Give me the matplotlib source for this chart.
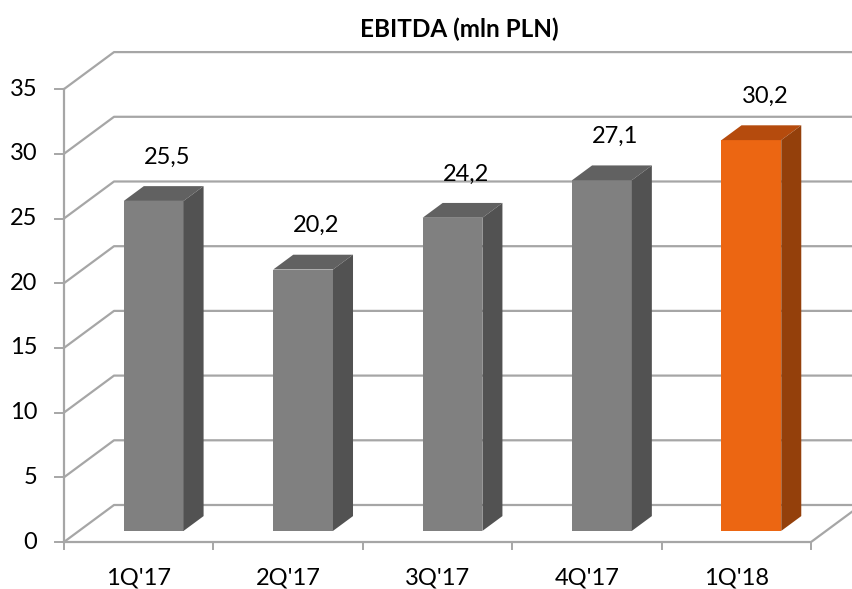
import matplotlib
matplotlib.use("Agg")
import matplotlib.pyplot as plt
from matplotlib.patches import Polygon

plt.rcParams['font.family'] = ['Lato', 'DejaVu Sans']

# data
categories = ["1Q'17", "2Q'17", "3Q'17", "4Q'17", "1Q'18"]
ebitda = [25.5, 20.2, 24.2, 27.1, 30.2]
value_labels = ["25,5", "20,2", "24,2", "27,1", "30,2"]
y_ticks = [0, 5, 10, 15, 20, 25, 30, 35]

# colours: (front, top, side)
gray = ("#808080", "#616161", "#525252")
orange = ("#EC6612", "#B54B0D", "#94400B")
bar_colors = [gray, gray, gray, gray, orange]

grid_color = "#A6A6A6"

# fake 3D: depth vector in data units
DX, DY = 0.335, 2.86
bar_w = 0.4
d0, d1 = 0.3, 0.7  # bar front / back depth fraction

fig = plt.figure(figsize=(8.52, 5.89), dpi=100)
ax = fig.add_axes([0, 0, 1, 1])
ax.set_xlim(-0.928, 4.774)
ax.set_ylim(-3.632, 41.886)
ax.axis("off")

n = len(categories)
x0, x1 = -0.5, n - 0.5
ymax = y_ticks[-1]

# walls and gridlines
for v in y_ticks:
    ax.plot([x0, x0 + DX, x1 + DX], [v, v + DY, v + DY], color=grid_color, lw=1.6, zorder=1,
            solid_capstyle="butt")
    ax.plot([x0 - 0.06, x0], [v, v], color=grid_color, lw=1.4, zorder=1)
    ax.text(x0 - 0.18, v, str(v), ha="right", va="center", fontsize=17, color="black")
ax.plot([x0, x0], [0, ymax], color=grid_color, lw=1.6, zorder=1)
# floor
ax.plot([x0, x1, x1 + DX], [0, 0, DY], color=grid_color, lw=1.6, zorder=1)
for b in range(n + 1):
    ax.plot([x0 + b, x0 + b], [0, -0.55], color=grid_color, lw=1.4, zorder=1)

# bars
for i, (v, c) in enumerate(zip(ebitda, bar_colors)):
    left = i - bar_w / 2 + d0 * DX
    right = left + bar_w
    base = d0 * DY
    ddx, ddy = (d1 - d0) * DX, (d1 - d0) * DY
    front = Polygon([(left, base), (right, base), (right, base + v), (left, base + v)],
                    closed=True, facecolor=c[0], edgecolor="none", zorder=3)
    top = Polygon([(left, base + v), (right, base + v), (right + ddx, base + v + ddy),
                   (left + ddx, base + v + ddy)],
                  closed=True, facecolor=c[1], edgecolor="none", zorder=3)
    side = Polygon([(right, base), (right + ddx, base + ddy), (right + ddx, base + v + ddy),
                    (right, base + v)],
                   closed=True, facecolor=c[2], edgecolor="none", zorder=3)
    for p in (front, top, side):
        ax.add_patch(p)
    ax.text(i + 0.19, v + 4.25, value_labels[i], ha="center", va="center", fontsize=17,
            color="black", zorder=4)

# category labels
for i, cat in enumerate(categories):
    ax.text(i, -2.78, cat, ha="center", va="center", fontsize=17, color="black")

fig.text(0.539, 0.951, "EBITDA (mln PLN)", ha="center", va="center", fontsize=17.5,
         fontweight="bold", color="black")

fig.savefig("out.png", dpi=100)
